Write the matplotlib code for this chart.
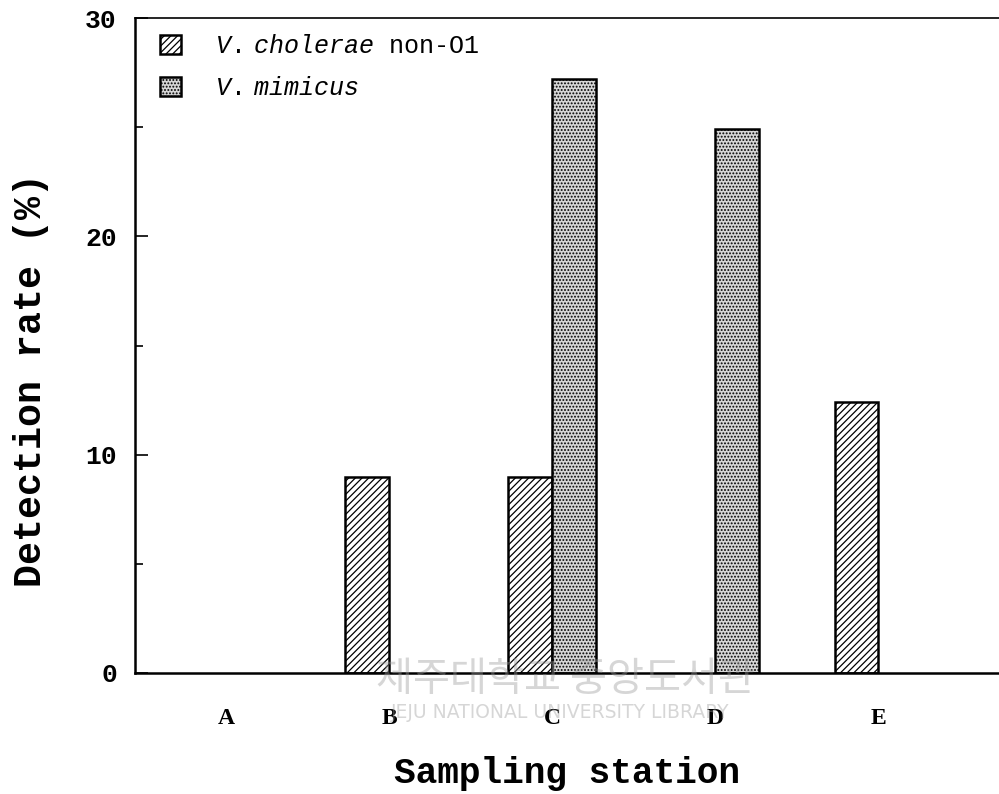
import numpy as np
import matplotlib
matplotlib.use("Agg")
import matplotlib.pyplot as plt

# ---- data ----
stations = ["A", "B", "C", "D", "E"]
cholerae = [0.0, 9.0, 9.0, 0.0, 12.4]
mimicus = [0.0, 0.0, 27.2, 24.9, 0.0]
series_labels = [r"$\mathit{V.\ cholerae}$ non-O1", r"$\mathit{V.\ mimicus}$"]
yticks = [0, 10, 20, 30]

plt.rcParams["mathtext.fontset"] = "custom"
plt.rcParams["mathtext.it"] = "Liberation Mono:italic"
plt.rcParams["mathtext.rm"] = "Liberation Mono"
plt.rcParams["hatch.linewidth"] = 0.9

fig = plt.figure(figsize=(9.99, 7.94), dpi=100)
ax = fig.add_axes([135 / 999, (794 - 673) / 794, 1 - 135 / 999, (673 - 18) / 794])

x = np.arange(len(stations))
w = 0.267
ch = np.where(np.array(cholerae) > 0, cholerae, np.nan)
mm = np.where(np.array(mimicus) > 0, mimicus, np.nan)
ax.bar(x - w / 2, ch, w, facecolor="white", edgecolor="black",
       linewidth=1.8, hatch="/////", label=series_labels[0], zorder=2)
ax.bar(x + w / 2, mm, w, facecolor="#d6d6d6", edgecolor="black",
       linewidth=1.8, hatch=".....", label=series_labels[1], zorder=2)

ax.set_xlim(-0.558, 4.742)
ax.set_ylim(0, 30)

ax.spines["right"].set_visible(False)
ax.spines["left"].set_linewidth(1.8)
ax.spines["bottom"].set_linewidth(1.8)
ax.spines["top"].set_linewidth(1.2)

ax.set_yticks(yticks)
ax.set_yticks([5, 15, 25], minor=True)
ax.tick_params(axis="y", which="major", direction="in", length=9, width=1.2, pad=13)
ax.tick_params(axis="y", which="minor", direction="in", length=6, width=1.2)
for lab in ax.get_yticklabels():
    lab.set_fontfamily("Liberation Mono")
    lab.set_fontweight("bold")
    lab.set_fontsize(19)

ax.set_xticks(x)
ax.set_xticklabels(stations, fontfamily="Liberation Serif", fontweight="bold", fontsize=17)
ax.tick_params(axis="x", length=0, pad=25)

ax.set_ylabel("Detection rate (%)", fontfamily="Liberation Mono", fontweight="bold",
              fontsize=27.5, va="center")
ax.yaxis.set_label_coords(-0.12, 0.447)
ax.set_xlabel("Sampling station", fontfamily="Liberation Mono", fontweight="bold",
              fontsize=26, va="center")
ax.xaxis.set_label_coords(0.5, -0.153)

leg = ax.legend(loc="upper left", bbox_to_anchor=(0.029, 0.975), frameon=False,
                prop={"family": "Liberation Mono", "size": 18},
                handlelength=0.85, handleheight=0.8, handletextpad=1.35,
                labelspacing=0.7, borderpad=0, borderaxespad=0)

# library watermark
fig.text(565 / 999, 1 - 680 / 794, "제주대학교 중앙도서관", fontfamily="Noto Sans CJK KR",
         fontsize=29, color="#9a9a9a", alpha=0.4, ha="center", va="center")
fig.text(560 / 999, 1 - 713 / 794, "JEJU NATIONAL UNIVERSITY LIBRARY", fontfamily="DejaVu Sans",
         fontsize=13.5, color="#9a9a9a", alpha=0.4, ha="center", va="center")

fig.savefig("out.png", dpi=100)
